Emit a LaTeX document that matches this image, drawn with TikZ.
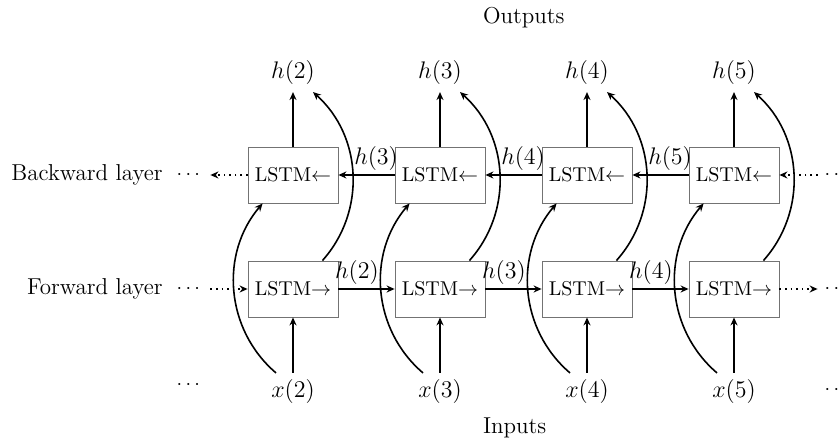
\documentclass[tikz,border=0pt]{standalone}
\usepackage{amssymb,amsmath}
\usetikzlibrary{arrows.meta,calc}
\begin{document}
\begin{tikzpicture}[x=0.5pt,y=0.5pt,font=\fontsize{11.5pt}{14pt}\selectfont]
			\tikzset{lstm/.style={draw=black!55,minimum width=45pt,minimum height=28pt,inner sep=2pt,font=\normalsize}}
			\tikzset{link/.style={line width=0.8pt,-{Stealth[length=4pt,width=3.5pt]}}}
			\tikzset{side/.style={line width=0.8pt,dotted,-{Stealth[length=4pt,width=3.5pt]}}}
			\tikzset{dots/.style={font=\normalsize}}
			\useasboundingbox (0,0) rectangle (840,439);
			\foreach \i [evaluate=\i as \x using 293+147*(\i-2)] in {2,...,5} {
				\node[lstm] (b\i) at (\x,264) {LSTM$\leftarrow$};
				\node[lstm] (f\i) at (\x,150) {LSTM$\rightarrow$};
				\node (h\i) at (\x,366) {$h(\i)$};
				\node (x\i) at (\x,47) {$x(\i)$};
			}
			\foreach \i in {2,...,5} {
				\draw[link] (b\i) -- (h\i);
				\draw[link] (x\i) -- (f\i);
				\draw[link] ([xshift=-8pt]f\i.north east) to[bend right=45] ([xshift=10pt]h\i.south);
				\draw[link] ([xshift=-8.5pt]x\i.north) to[bend left=45] ([xshift=7.5pt]b\i.south west);
			}
			\foreach \i/\j in {2/3,3/4,4/5} {
				\draw[link] (f\i) -- node[pos=0.33,above,inner sep=2pt] {$h(\i)$} (f\j);
				\draw[link] (b\j) -- node[pos=0.33,above,inner sep=2pt] {$h(\j)$} (b\i);
			}
			\node[dots] (bl) at (190,264) {$\cdots$};
			\node[anchor=east] (bltext) at (bl.west) {Backward layer};
			\node[dots] (fl) at (190,150) {$\cdots$};
			\node[anchor=east] (fltext) at (fl.west) {Forward layer};
			\node[dots] (br) at (838,264) {$\cdots$};
			\node[dots] (fr) at (838,150) {$\cdots$};
			\draw[side] (b2) -- (bl);
			\draw[side] (fl) -- (f2);
			\draw[side] (br) -- (b5);
			\draw[side] (f5) -- (fr);
			\node[dots] (xl) at (190,54) {$\cdots$};
			\node[dots] (xr) at (838,49) {$\cdots$};
			\node[anchor=west] (outputs) at (476,421) {Outputs};
			\node[anchor=west] (inputs) at (476,11) {Inputs};
		\end{tikzpicture}
\end{document}
